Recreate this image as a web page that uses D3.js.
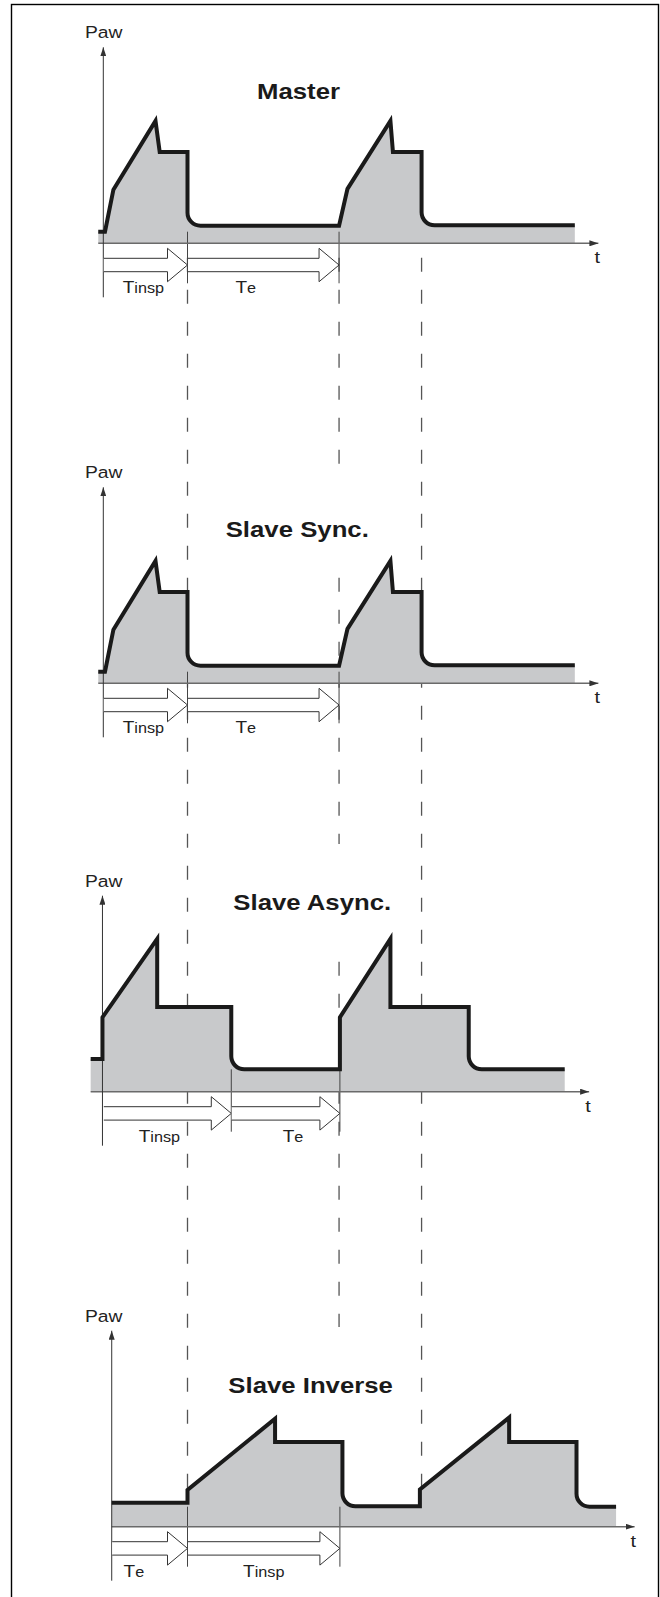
<!DOCTYPE html>
<html>
<head>
<meta charset="utf-8">
<title>Paw</title>
<style>
  body { margin: 0; background: #fff; }
  svg { display: block; font-family: "Liberation Sans", Arial, sans-serif; }
</style>
</head>
<body>
<svg width="660" height="1597"></svg>
<script src="https://d3js.org/d3.v7.min.js"></script>
<script>

// ventilation modes, top to bottom
var modes = ["Master", "Slave Sync.", "Slave Async.", "Slave Inverse"];

// airway pressure curves, [time in s, pressure]
var masterWave = [[-0.06, 2.9], [0.02, 2.9], [0.12, 13.4], [0.62, 30.6], [0.67, 22.8], [1.0, 22.8], [1.0, 4.4],
  [2.8, 4.4], [2.9, 13.6], [3.41, 30.6], [3.44, 22.8], [3.78, 22.8], [3.78, 4.5], [5.6, 4.5]];
var syncWave = [[-0.06, 2.9], [0.02, 2.9], [0.12, 13.4], [0.62, 30.6], [0.67, 22.8], [1.0, 22.8], [1.0, 4.4],
  [2.8, 4.4], [2.9, 13.6], [3.41, 30.6], [3.44, 22.8], [3.78, 22.8], [3.78, 4.5], [5.6, 4.5]];
var asyncWave = [[-0.15, 8.2], [-0.01, 8.2], [-0.01, 18.6], [0.64, 38.2], [0.64, 21.2], [1.52, 21.2], [1.52, 5.6],
  [2.81, 5.6], [2.81, 18.6], [3.41, 38.2], [3.41, 21.2], [4.34, 21.2], [4.34, 5.6], [5.48, 5.6]];
var inverseWave = [[0.1, 6.0], [1.0, 6.0], [1.0, 9.2], [2.04, 27.0], [2.04, 21.2], [2.84, 21.2], [2.84, 5.1],
  [3.76, 5.1], [3.76, 9.3], [4.82, 27.3], [4.82, 21.2], [5.62, 21.2], [5.62, 5.0], [6.09, 5.0]];
var waves = [masterWave, syncWave, asyncWave, inverseWave];

// time at which the expiration valve opens (rounded corner)
var expStart = [[1.0, 3.78], [1.0, 3.78], [1.52, 4.34], [2.84, 5.62]];

// phase arrows: [from, to, label, subscript]
var masterPhases = [[0, 1.0, "T", "insp"], [1.0, 2.8, "T", "e"]];
var syncPhases = [[0, 1.0, "T", "insp"], [1.0, 2.8, "T", "e"]];
var asyncPhases = [[0, 1.52, "T", "insp"], [1.52, 2.81, "T", "e"]];
var inversePhases = [[0.1, 1.0, "T", "e"], [1.0, 2.81, "T", "insp"]];
var phases = [masterPhases, syncPhases, asyncPhases, inversePhases];

// dashed reference times of the master cycle
var guideT = [1.0, 2.8, 3.78];

var svg = d3.select("svg");

// one time scale for every panel
var x = d3.scaleLinear().domain([0, 1]).range([103.3, 187.5]);

var layout = [
  {axisY: 243.3, yAxisT: 0, tipT: 5.88, titleX: 257, titleY: 99, labelT: [0.23, 1.57], gap: false},
  {axisY: 683.3, yAxisT: 0, tipT: 5.88, titleX: 225.7, titleY: 536.7, labelT: [0.23, 1.57], gap: true},
  {axisY: 1091.7, yAxisT: -0.01, tipT: 5.77, titleX: 233.3, titleY: 910, labelT: [0.42, 2.13], gap: true},
  {axisY: 1526.7, yAxisT: 0.1, tipT: 6.31, titleX: 228.3, titleY: 1393.3, labelT: [0.24, 1.66], gap: false}
];
var guideEnd = [1490, 1327, 1489];

function stretched(sel, px, py, s) {
  return sel.attr("transform", "translate(" + px + "," + py + ") scale(" + (s || 1.17) + ",1)");
}

svg.append("rect")
  .attr("x", 11.5).attr("y", 4.5)
  .attr("width", 647).attr("height", 1600)
  .attr("fill", "none").attr("stroke", "#000").attr("stroke-width", 1.4);

var defs = svg.append("defs");
defs.append("marker")
  .attr("id", "tip")
  .attr("viewBox", "0 0 9 6")
  .attr("refX", 9).attr("refY", 3)
  .attr("markerWidth", 9).attr("markerHeight", 6)
  .attr("markerUnits", "userSpaceOnUse")
  .attr("orient", "auto")
  .append("path")
  .attr("d", "M0,0 L9,3 L0,6 z")
  .attr("fill", "#333");

var yScales = layout.map(function(l) {
  return d3.scaleLinear().domain([0, 49]).range([l.axisY, l.axisY - 196]);
});

// dashed guides across all panels
var guideG = svg.append("g");
guideG.selectAll("line")
  .data(guideT)
  .enter()
  .append("line")
  .attr("x1", function(d) { return x(d); })
  .attr("x2", function(d) { return x(d); })
  .attr("y1", yScales[0](4.4))
  .attr("y2", function(d, i) { return guideEnd[i]; })
  .attr("stroke", "#555")
  .attr("stroke-width", 1.3)
  .attr("stroke-dasharray", "14,18");

function wavePath(pts, y, exp, closeY) {
  var p = d3.path();
  pts.forEach(function(d, i) {
    var px = x(d[0]), py = y(d[1]);
    if (i === 0) { p.moveTo(px, py); return; }
    var prev = pts[i - 1], next = pts[i + 1];
    if (next && prev[0] === d[0] && next[1] === d[1] && exp.indexOf(d[0]) >= 0) {
      p.arcTo(px, py, x(next[0]), y(next[1]), 13);
    } else {
      p.lineTo(px, py);
    }
  });
  if (closeY != null) {
    var last = pts[pts.length - 1];
    p.lineTo(x(last[0]), closeY);
    p.lineTo(x(pts[0][0]), closeY);
    p.closePath();
  }
  return p.toString();
}

layout.forEach(function(l, k) {
  var y = yScales[k];
  var wave = waves[k];
  var g = svg.append("g");

  // title box hides the guides behind the title
  if (l.gap) {
    g.append("rect")
      .attr("x", l.titleX).attr("y", l.titleY - 66)
      .attr("width", 150).attr("height", 106)
      .attr("fill", "#fff");
  }

  // fill under the curve
  g.append("path")
    .attr("d", wavePath(wave, y, expStart[k], l.axisY))
    .attr("fill", "#c8c9cb");

  // phase ticks
  var low = d3.min(wave, function(d) { return d[1]; });
  var ticks = [phases[k][0][1], phases[k][1][1]];
  g.selectAll(".tick")
    .data(ticks)
    .enter()
    .append("line")
    .attr("x1", function(d) { return x(d); })
    .attr("x2", function(d) { return x(d); })
    .attr("y1", y(low))
    .attr("y2", l.axisY + 40)
    .attr("stroke", "#444")
    .attr("stroke-width", 1);

  // t axis
  g.append("line")
    .attr("x1", x(wave[0][0])).attr("x2", x(l.tipT))
    .attr("y1", l.axisY).attr("y2", l.axisY)
    .attr("stroke", "#6a6a6a").attr("stroke-width", 1.5)
    .attr("marker-end", "url(#tip)");

  // Paw axis
  g.append("line")
    .attr("x1", x(l.yAxisT)).attr("x2", x(l.yAxisT))
    .attr("y1", l.axisY + 54).attr("y2", y(49))
    .attr("stroke", "#333").attr("stroke-width", 1)
    .attr("marker-end", "url(#tip)");

  // pressure curve
  g.append("path")
    .attr("d", wavePath(wave, y, expStart[k], null))
    .attr("fill", "none")
    .attr("stroke", "#1a1a1a")
    .attr("stroke-width", 4)
    .attr("stroke-linejoin", "miter");

  // phase arrows
  var a0 = l.axisY + 5, a1 = l.axisY + 15, a2 = l.axisY + 28.4, a3 = l.axisY + 38.4, am = l.axisY + 21.7;
  g.selectAll(".arrow")
    .data(phases[k])
    .enter()
    .append("path")
    .attr("d", function(d) {
      var s = x(d[0]) + 0.5, e = x(d[1]), h = e - 20;
      return "M" + s + "," + a1 + "L" + h + "," + a1 + "L" + h + "," + a0 + "L" + e + "," + am +
        "L" + h + "," + a3 + "L" + h + "," + a2 + "L" + s + "," + a2;
    })
    .attr("fill", "#fff")
    .attr("stroke", "#333")
    .attr("stroke-width", 1);

  phases[k].forEach(function(d, i) {
    var t = stretched(g.append("text"), x(l.labelT[i]), l.axisY + 50, 1.12)
      .attr("fill", "#222");
    t.append("tspan").attr("font-size", 17).text(d[2]);
    t.append("tspan").attr("font-size", 14.5).text(d[3]);
  });

  // labels
  stretched(g.append("text"), 85, y(49) - 9)
    .attr("font-size", 16.5).attr("fill", "#222").text("Paw");
  stretched(g.append("text"), x(l.tipT) - 4, l.axisY + 20)
    .attr("font-size", 17).attr("fill", "#222").text("t");
  stretched(g.append("text"), l.titleX, l.titleY, 1.12)
    .attr("font-size", 23).attr("font-weight", "bold").attr("fill", "#1a1a1a").text(modes[k]);
});

</script>
</body>
</html>
